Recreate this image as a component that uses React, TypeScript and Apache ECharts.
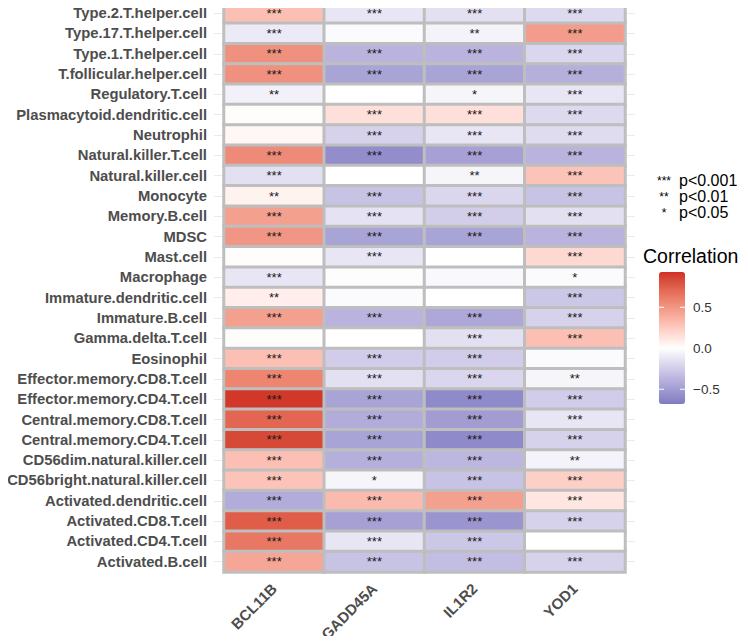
import React, { useEffect, useRef } from "react";
import * as echarts from "echarts";

// Rows, top to bottom as shown
const cells = [
  "Type.2.T.helper.cell",
  "Type.17.T.helper.cell",
  "Type.1.T.helper.cell",
  "T.follicular.helper.cell",
  "Regulatory.T.cell",
  "Plasmacytoid.dendritic.cell",
  "Neutrophil",
  "Natural.killer.T.cell",
  "Natural.killer.cell",
  "Monocyte",
  "Memory.B.cell",
  "MDSC",
  "Mast.cell",
  "Macrophage",
  "Immature.dendritic.cell",
  "Immature.B.cell",
  "Gamma.delta.T.cell",
  "Eosinophil",
  "Effector.memory.CD8.T.cell",
  "Effector.memory.CD4.T.cell",
  "Central.memory.CD8.T.cell",
  "Central.memory.CD4.T.cell",
  "CD56dim.natural.killer.cell",
  "CD56bright.natural.killer.cell",
  "Activated.dendritic.cell",
  "Activated.CD8.T.cell",
  "Activated.CD4.T.cell",
  "Activated.B.cell",
];

const genes = ["BCL11B", "GADD45A", "IL1R2", "YOD1"];

const bcl11b = [0.3, -0.1, 0.52, 0.52, -0.07, 0.01, 0.04, 0.55, -0.15, 0.06, 0.45, 0.5, 0.01, -0.12, 0.08, 0.45, 0.01, 0.3, 0.58, 0.9, 0.72, 0.84, 0.3, 0.28, -0.42, 0.76, 0.64, 0.42];
const gadd45a = [-0.12, -0.02, -0.38, -0.46, 0.0, 0.15, -0.22, -0.58, 0.0, -0.3, -0.14, -0.46, -0.12, -0.01, -0.02, -0.38, 0.0, -0.25, -0.15, -0.46, -0.42, -0.46, -0.4, -0.05, 0.32, -0.48, -0.12, -0.3];
const il1r2 = [-0.15, -0.06, -0.38, -0.46, -0.05, 0.15, -0.12, -0.48, -0.05, -0.2, -0.24, -0.46, 0.0, -0.03, 0.0, -0.44, -0.15, -0.25, -0.2, -0.6, -0.5, -0.6, -0.36, -0.3, 0.45, -0.54, -0.28, -0.33];
const yod1 = [-0.18, 0.47, -0.2, -0.4, -0.12, -0.18, -0.17, -0.38, 0.28, -0.3, -0.15, -0.38, 0.18, -0.02, -0.28, -0.22, 0.3, -0.02, -0.05, -0.25, -0.12, -0.22, -0.06, 0.22, 0.12, -0.22, 0.0, -0.22];

const bcl11bSig = ["***", "***", "***", "***", "**", "", "", "***", "***", "**", "***", "***", "", "***", "**", "***", "", "***", "***", "***", "***", "***", "***", "***", "***", "***", "***", "***"];
const gadd45aSig = ["***", "", "***", "***", "", "***", "***", "***", "", "***", "***", "***", "***", "", "", "***", "", "***", "***", "***", "***", "***", "***", "*", "***", "***", "***", "***"];
const il1r2Sig = ["***", "**", "***", "***", "*", "***", "***", "***", "**", "***", "***", "***", "", "", "", "***", "***", "***", "***", "***", "***", "***", "***", "***", "***", "***", "***", "***"];
const yod1Sig = ["***", "***", "***", "***", "***", "***", "***", "***", "***", "***", "***", "***", "***", "*", "***", "***", "***", "", "**", "***", "***", "***", "**", "***", "***", "***", "", "***"];

const colorbarTicks = [0.5, 0.0, -0.5];
const scaleMin = -0.68;
const scaleMax = 0.93;
const lowColor = "#7F7BC2";
const highColor = "#CE2F24";

// ---- Lab colour interpolation (like ggplot's gradient2) ----
function hexToRgb(h: string) {
  return [parseInt(h.slice(1, 3), 16), parseInt(h.slice(3, 5), 16), parseInt(h.slice(5, 7), 16)];
}
function toLin(c: number) {
  c /= 255;
  return c <= 0.04045 ? c / 12.92 : Math.pow((c + 0.055) / 1.055, 2.4);
}
function fromLin(c: number) {
  const v = c <= 0.0031308 ? 12.92 * c : 1.055 * Math.pow(c, 1 / 2.4) - 0.055;
  return Math.round(Math.max(0, Math.min(1, v)) * 255);
}
const Xn = 0.95047, Yn = 1, Zn = 1.08883;
function f(t: number) {
  return t > 0.008856 ? Math.cbrt(t) : 7.787 * t + 16 / 116;
}
function finv(t: number) {
  const t3 = t * t * t;
  return t3 > 0.008856 ? t3 : (t - 16 / 116) / 7.787;
}
function rgb2lab(rgb: number[]) {
  const r = toLin(rgb[0]), g = toLin(rgb[1]), b = toLin(rgb[2]);
  const X = 0.4124564 * r + 0.3575761 * g + 0.1804375 * b;
  const Y = 0.2126729 * r + 0.7151522 * g + 0.072175 * b;
  const Z = 0.0193339 * r + 0.119192 * g + 0.9503041 * b;
  const fx = f(X / Xn), fy = f(Y / Yn), fz = f(Z / Zn);
  return [116 * fy - 16, 500 * (fx - fy), 200 * (fy - fz)];
}
function lab2hex(lab: number[]) {
  const fy = (lab[0] + 16) / 116;
  const fx = fy + lab[1] / 500;
  const fz = fy - lab[2] / 200;
  const X = Xn * finv(fx), Y = Yn * finv(fy), Z = Zn * finv(fz);
  const r = 3.2404542 * X - 1.5371385 * Y - 0.4985314 * Z;
  const g = -0.969266 * X + 1.8760108 * Y + 0.041556 * Z;
  const b = 0.0556434 * X - 0.2040259 * Y + 1.0572252 * Z;
  const hx = (n: number) => fromLin(n).toString(16).padStart(2, "0");
  return "#" + hx(r) + hx(g) + hx(b);
}
const labWhite = rgb2lab([255, 255, 255]);
const labLow = rgb2lab(hexToRgb(lowColor));
const labHigh = rgb2lab(hexToRgb(highColor));
function colorAt(v: number) {
  const target = v < 0 ? labLow : labHigh;
  const t = v < 0 ? Math.min(1, v / scaleMin) : Math.min(1, v / scaleMax);
  return lab2hex([0, 1, 2].map((i) => labWhite[i] + (target[i] - labWhite[i]) * t));
}
const nStops = 65;
const rampColors: string[] = [];
for (let i = 0; i < nStops; i++) {
  rampColors.push(colorAt(scaleMin + ((scaleMax - scaleMin) * i) / (nStops - 1)));
}

export default function App() {
  const ref = useRef<HTMLDivElement>(null);
  useEffect(() => {
    if (!ref.current) return;
    const chart = echarts.init(ref.current, null, { renderer: "svg" });
    const values = [bcl11b, gadd45a, il1r2, yod1];
    const sigs = [bcl11bSig, gadd45aSig, il1r2Sig, yod1Sig];
    const data: number[][] = [];
    genes.forEach((_, gi) => {
      cells.forEach((_, ci) => {
        data.push([gi, ci, values[gi][ci]]);
      });
    });

    const cbLeft = 659, cbTop = 272, cbW = 26, cbH = 132;
    const yOf = (v: number) => cbTop + ((scaleMax - v) / (scaleMax - scaleMin)) * cbH;
    const fontFam = "'Liberation Sans', Arial, Helvetica, sans-serif";

    const graphics: any[] = [
      {
        type: "text",
        left: 643,
        top: 246,
        style: { text: "Correlation", fontSize: 19.5, fill: "#000", fontFamily: fontFam },
      },
    ];
    colorbarTicks.forEach((t) => {
      const y = yOf(t);
      graphics.push({
        type: "text",
        x: 693,
        y,
        style: {
          text: t === 0 ? "0.0" : t < 0 ? "\u2212" + Math.abs(t).toFixed(1) : t.toFixed(1),
          fontSize: 13.5,
          fill: "#333",
          fontFamily: fontFam,
          verticalAlign: "middle",
        },
        z: 100,
      });
      graphics.push({
        type: "line",
        shape: { x1: cbLeft, y1: y, x2: cbLeft + 5, y2: y },
        style: { stroke: "#fff", lineWidth: 1 },
        z: 100,
      });
      graphics.push({
        type: "line",
        shape: { x1: cbLeft + cbW - 5, y1: y, x2: cbLeft + cbW, y2: y },
        style: { stroke: "#fff", lineWidth: 1 },
        z: 100,
      });
    });
    const legendRows = [
      { s: "***", p: "p<0.001", y: 180 },
      { s: "**", p: "p<0.01", y: 196 },
      { s: "*", p: "p<0.05", y: 212 },
    ];
    legendRows.forEach((r) => {
      graphics.push({
        type: "text",
        x: 664,
        y: r.y + 1,
        style: { text: r.s, fontSize: 12, fill: "#000", fontFamily: fontFam, align: "center", verticalAlign: "middle" },
      });
      graphics.push({
        type: "text",
        x: 679,
        y: r.y,
        style: { text: r.p, fontSize: 16, fill: "#000", fontFamily: fontFam, align: "left", verticalAlign: "middle" },
      });
    });

    chart.setOption({
      animation: false,
      backgroundColor: "#fff",
      grid: { left: 224, right: 123, top: 3, bottom: 67, containLabel: false },
      xAxis: {
        type: "category",
        data: genes,
        axisLine: { show: false },
        axisTick: { show: false },
        splitLine: { show: false },
        axisLabel: {
          rotate: 45,
          margin: 14,
          fontSize: 15,
          fontWeight: "bold",
          color: "#4D4D4D",
          fontFamily: fontFam,
        },
      },
      yAxis: [
        {
          type: "category",
          data: cells,
          inverse: true,
          axisLine: { show: false },
          axisTick: { show: true, alignWithLabel: true, length: 10, lineStyle: { color: "#EBEBEB", width: 1 } },
          splitLine: { show: false },
          axisLabel: {
            margin: 17,
            fontSize: 14.8,
            fontWeight: "bold",
            color: "#4D4D4D",
            fontFamily: fontFam,
          },
        },
        {
          type: "category",
          data: cells,
          inverse: true,
          position: "right",
          axisLine: { show: false },
          axisTick: { show: true, alignWithLabel: true, length: 10, lineStyle: { color: "#EBEBEB", width: 1 } },
          axisLabel: { show: false },
        },
      ],
      visualMap: {
        type: "continuous",
        min: scaleMin,
        max: scaleMax,
        dimension: 2,
        seriesIndex: 0,
        calculable: false,
        show: true,
        left: cbLeft,
        top: cbTop,
        itemWidth: cbW,
        itemHeight: cbH,
        padding: 0,
        hoverLink: false,
        inRange: { color: rampColors },
      },
      graphic: graphics,
      series: [
        {
          type: "heatmap",
          data,
          xAxisIndex: 0,
          yAxisIndex: 0,
          itemStyle: { borderColor: "#BEBEBE", borderWidth: 3 },
          emphasis: { disabled: true },
          label: {
            show: true,
            formatter: (p: any) => sigs[p.value[0]][p.value[1]],
            fontSize: 13,
            color: "#1A1A1A",
            fontFamily: fontFam,
          },
        },
      ],
    });
    return () => chart.dispose();
  }, []);
  return <div ref={ref} style={{ width: 748, height: 644, margin: -8 }} />;
}
